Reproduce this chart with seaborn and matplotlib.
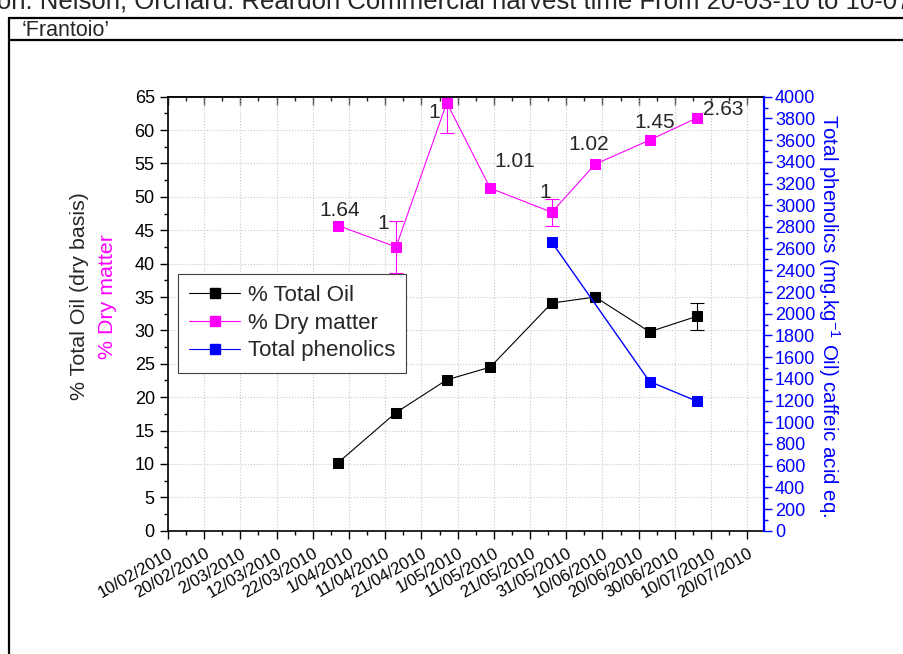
import datetime as dt
import numpy as np
import pandas as pd
import matplotlib
matplotlib.use("Agg")
import matplotlib.pyplot as plt
from matplotlib import ticker
from matplotlib.lines import Line2D
import seaborn as sns

sns.set_style("white")
plt.rcParams['font.family'] = ['Liberation Sans', 'DejaVu Sans']
plt.rcParams['mathtext.fontset'] = 'custom'
plt.rcParams['mathtext.rm'] = 'Liberation Sans'
plt.rcParams['mathtext.default'] = 'regular'

# data
dates = ["29/03/2010", "14/04/2010", "28/04/2010", "10/05/2010",
         "27/05/2010", "8/06/2010", "23/06/2010", "6/07/2010"]
total_oil = [10.2, 17.7, 22.6, 24.5, 34.1, 35.0, 29.8, 32.1]
oil_err = [0, 0, 0, 0, 0, 0, 0, 2.0]
dry_matter = [45.7, 42.5, 64.1, 51.3, 47.7, 54.9, 58.5, 61.8]
dry_err = [0, 3.9, 4.5, 0, 2.0, 0, 0, 0]
ratio_labels = ["1.64", "1", "1", "1.01", "1", "1.02", "1.45", "2.63"]
phen_dates = ["27/05/2010", "23/06/2010", "6/07/2010"]
phenolics = [2660, 1375, 1195]
tick_dates = pd.date_range("2010-02-10", periods=17, freq="10D")

# label offsets (points) for the ratio labels
label_offsets = [(1, 11), (-9, 17), (-9, -7), (18, 19), (-5, 14), (-5, 14), (4, 13), (19, 6)]

MAG = '#FF00FF'
BLUE = '#0000FF'

df = pd.DataFrame({'date': pd.to_datetime(dates, dayfirst=True),
                   'oil': total_oil, 'oil_err': oil_err,
                   'dry': dry_matter, 'dry_err': dry_err})
phen = pd.DataFrame({'date': pd.to_datetime(phen_dates, dayfirst=True),
                     'phen': phenolics})

fig = plt.figure(figsize=(9.04, 6.54), dpi=100)
ax = fig.add_axes([0.1858, 0.1885, 0.6593, 0.6636])

sns.lineplot(data=df, x='date', y='oil', ax=ax, color='black', marker='s',
             markersize=7.5, markeredgecolor='black', linewidth=0.8, label='% Total Oil')
sns.lineplot(data=df, x='date', y='dry', ax=ax, color=MAG, marker='s',
             markersize=7.5, markeredgecolor=MAG, linewidth=0.8, label='% Dry matter')
m = df.oil_err > 0
ax.errorbar(df.date[m], df.oil[m], yerr=df.oil_err[m], fmt='none', ecolor='black',
            elinewidth=0.8, capsize=5, capthick=0.8)
m = df.dry_err > 0
ax.errorbar(df.date[m], df.dry[m], yerr=df.dry_err[m], fmt='none', ecolor=MAG,
            elinewidth=0.8, capsize=5, capthick=0.8, clip_on=True)

for d, y, lab, off in zip(df.date, df.dry, ratio_labels, label_offsets):
    ax.annotate(lab, (d, y), xytext=off, textcoords='offset points',
                ha='center', va='center', fontsize=15, annotation_clip=False)

ax.get_legend().remove()
ax.set_xlabel('')
ax.set_ylabel('')
x0 = dt.datetime(2010, 2, 10)
ax.set_xlim(x0, x0 + dt.timedelta(days=164.6))
ax.set_ylim(0, 65)
ax.set_xticks(tick_dates)
ax.set_xticklabels([f"{d.day}/{d.month:02d}/{d.year}" for d in tick_dates],
                   rotation=30, ha='right', rotation_mode='anchor')
ax.xaxis.set_minor_locator(ticker.MultipleLocator(5))
ax.set_yticks(range(0, 66, 5))
ax.yaxis.set_minor_locator(ticker.MultipleLocator(2.5))
ax.grid(True, which='major', color='#c8c8c8', linestyle=':', linewidth=0.8)
ax.tick_params(axis='x', which='both', bottom=True, direction='out', labelsize=12,
               colors='black', pad=5)
ax.tick_params(axis='y', which='both', left=True, direction='out', labelsize=13,
               colors='black')
ax.tick_params(which='major', length=6, width=1)
ax.tick_params(which='minor', length=3, width=1)
for s in ['left', 'bottom', 'top']:
    ax.spines[s].set_color('black')
    ax.spines[s].set_linewidth(1.2)
ax.spines['right'].set_visible(False)

sec = ax.secondary_xaxis('top')
sec.xaxis.set_major_locator(ticker.MultipleLocator(10))
sec.xaxis.set_minor_locator(ticker.MultipleLocator(5))
sec.tick_params(which='both', direction='in', top=True, labeltop=False, width=1)
sec.tick_params(which='major', length=6)
sec.tick_params(which='minor', length=3)
sec.spines['top'].set_linewidth(1.2)

ax2 = ax.twinx()
sns.lineplot(data=phen, x='date', y='phen', ax=ax2, color=BLUE, marker='s',
             markersize=7.5, markeredgecolor=BLUE, linewidth=1.0, label='Total phenolics')
ax2.get_legend().remove()
ax2.set_ylabel('')
ax2.set_ylim(0, 4000)
ax2.set_yticks(range(0, 4001, 200))
ax2.yaxis.set_minor_locator(ticker.MultipleLocator(100))
ax2.tick_params(axis='y', which='both', right=True, direction='out', colors=BLUE,
                labelsize=13, pad=2)
ax2.tick_params(which='major', length=6, width=1)
ax2.tick_params(which='minor', length=3, width=1)
for s in ['left', 'bottom', 'top']:
    ax2.spines[s].set_visible(False)
ax2.spines['right'].set_color(BLUE)
ax2.spines['right'].set_linewidth(1.6)

handles = [Line2D([], [], color='black', marker='s', markersize=7.5, linewidth=0.8),
           Line2D([], [], color=MAG, marker='s', markersize=7.5, linewidth=0.8),
           Line2D([], [], color=BLUE, marker='s', markersize=7.5, linewidth=0.8)]
leg = ax2.legend(handles, ['% Total Oil', '% Dry matter', 'Total phenolics'],
                 loc='upper left', bbox_to_anchor=(0.0168, 0.5915), borderaxespad=0,
                 frameon=True, fancybox=False, edgecolor='#404040', framealpha=1,
                 fontsize=16, handlelength=2.3, handletextpad=0.35, labelspacing=0.3,
                 borderpad=0.5)
leg.get_frame().set_linewidth(0.8)

# axis titles
fig.text(80 / 904, 1 - 296 / 654, '% Total Oil (dry basis)', rotation=90,
         ha='center', va='center', fontsize=15.4)
fig.text(108 / 904, 1 - 297 / 654, '% Dry matter', rotation=90, color=MAG,
         ha='center', va='center', fontsize=15.4)
fig.text(829 / 904, 1 - 316 / 654, 'Total phenolics (mg.kg$^{-1}$ Oil) caffeic acid eq.',
         rotation=-90, color=BLUE, ha='center', va='center', fontsize=14.8)

# surrounding document table
fig.text(-16 / 904, 1 - 8 / 654,
         'tion: Nelson, Orchard: Reardon Commercial harvest time From 20-03-10 to 10-07-10',
         ha='left', va='baseline', fontsize=18.5)
fig.text(22 / 904, 1 - 36 / 654, '\u2018Frantoio\u2019', ha='left', va='baseline',
         fontsize=15.5)
for y in [18, 40]:
    fig.add_artist(Line2D([9 / 904, 1], [1 - y / 654] * 2, color='black', linewidth=1.6,
                          transform=fig.transFigure))
fig.add_artist(Line2D([9 / 904] * 2, [1 - 18 / 654, 0], color='black', linewidth=1.6,
                      transform=fig.transFigure))

fig.savefig('out.png', dpi=100)
